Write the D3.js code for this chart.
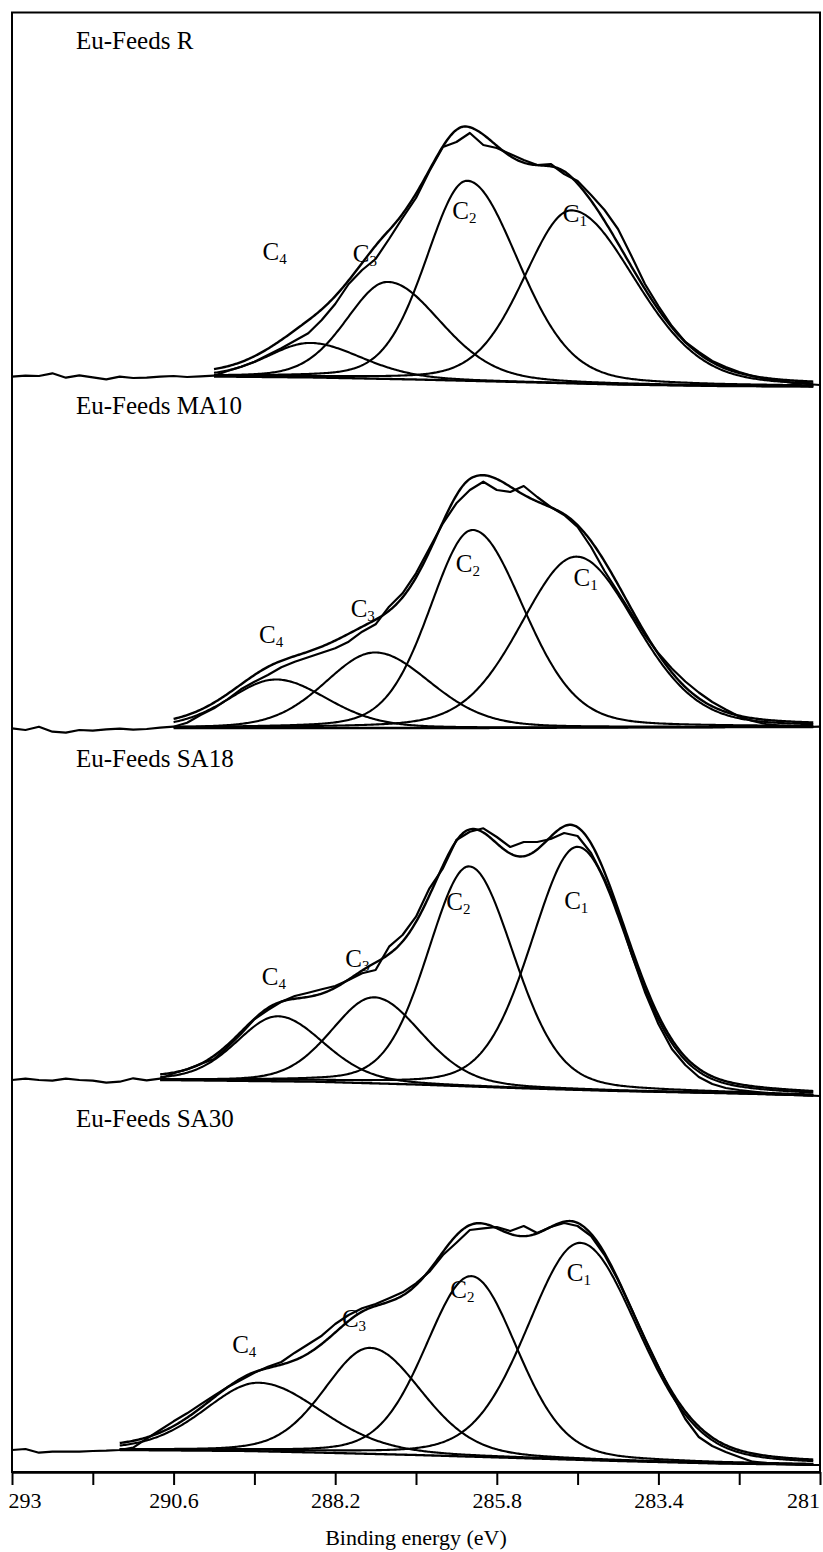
<!DOCTYPE html>
<html lang="en">
  <head>
    <meta charset="UTF-8" />
    <title>C1s XPS spectra</title>
    <style>
      body { margin: 0; background: #fff; }
      text { font-family: "Liberation Serif", "Times New Roman", serif; fill: #000; }
    </style>
  </head>
  <body>
    <svg id="svg" width="823" height="1552"></svg>
    <script src="https://d3js.org/d3.v7.min.js"></script>
    <script>
      // sample names, one panel each (top to bottom)
      const panelNames = ["Eu-Feeds R", "Eu-Feeds MA10", "Eu-Feeds SA18", "Eu-Feeds SA30"];
      const compNames = ["1", "2", "3", "4"];

      // binding energy grid of the measured spectra (eV)
      const energies = [
        293.0, 292.8, 292.6, 292.4, 292.2, 292.0, 291.8, 291.6, 291.4, 291.2,
        291.0, 290.8, 290.6, 290.4, 290.2, 290.0, 289.8, 289.6, 289.4, 289.2,
        289.0, 288.8, 288.6, 288.4, 288.2, 288.0, 287.8, 287.6, 287.4, 287.2,
        287.0, 286.8, 286.6, 286.4, 286.2, 286.0, 285.8, 285.6, 285.4, 285.2,
        285.0, 284.8, 284.6, 284.4, 284.2, 284.0, 283.8, 283.6, 283.4, 283.2,
        283.0, 282.8, 282.6, 282.4, 282.2, 282.0, 281.8, 281.6, 281.4, 281.2, 281.0
      ];

      // measured intensity (a.u.)
      const rawR = [
        15.3, 16.3, 16, 18.7, 14.3, 16.7, 14.7, 12.7, 15.3, 14,
        14.3, 15.3, 16, 15, 15.7, 16.3, 21, 25.3, 30.3, 37,
        43.7, 51.3, 58.7, 72, 88, 108, 122, 133, 153, 174,
        194, 221, 245, 250, 259, 247, 244, 238, 232, 227,
        228, 218, 211, 197, 182, 163, 136, 108, 86, 66,
        50, 40, 31, 25, 20, 16, 13, 11, 9, 8, 7
      ];
      const rawMA10 = [
        13.7, 12, 15.3, 10.3, 9.3, 12, 11.3, 12.7, 13.3, 12.3,
        13, 14.3, 15.3, 19.3, 27, 33.7, 42.7, 52.7, 60.3, 67,
        74.7, 80.3, 84.7, 89.3, 93.7, 100.3, 110.3, 117.7, 135.3, 148.7,
        168.7, 193.7, 218.7, 238.7, 252, 260.3, 252, 250, 256, 245,
        235, 227, 215, 195, 171, 150, 128.5, 107, 88.7, 73.5,
        60.5, 49.5, 40, 32.5, 25.5, 21, 18, 16.5, 15.5, 15, 15.3
      ];
      const rawSA18 = [
        20, 21.3, 20, 19.3, 21.3, 20, 19.3, 17.3, 18.3, 21.7,
        19.7, 21.3, 26.7, 30.7, 36, 41, 52.7, 66, 80.7, 90,
        98.3, 104, 107.3, 110.7, 114, 120, 126.7, 130, 153.3, 165,
        183.3, 211.7, 231.7, 260, 268.3, 271.7, 263, 253, 258, 258,
        261, 267, 264, 247, 221, 189, 146, 108, 76, 51,
        35, 23, 16, 12, 10, 8.5, 7, 6, 5, 4.7, 4
      ];
      const rawSA30 = [
        20, 21, 17.3, 18.3, 18.3, 18.3, 19, 19.3, 20, 22.3,
        31.3, 40, 48.7, 56.7, 65.7, 74.3, 82.7, 90, 97.3, 103.3,
        108, 117.3, 125.7, 134.3, 146, 155, 161.7, 166, 171.7, 177.7,
        186.7, 198.3, 215, 227.3, 240, 241.7, 243, 239, 244, 237,
        243, 247, 244, 234, 215, 190, 161, 131.5, 103.5, 76,
        51, 33, 24, 18, 13, 8.3, 7, 6, 5.5, 5, 5
      ];
      const rawCounts = [rawR, rawMA10, rawSA18, rawSA30];

      // fitted components C1..C4 per panel: centre (eV), height, FWHM on high / low BE side
      const peakCentre = [
        [284.69, 286.24, 287.42, 288.57],
        [284.62, 286.16, 287.61, 289.08],
        [284.60, 286.21, 287.62, 289.05],
        [284.56, 286.18, 287.68, 289.33]
      ];
      const peakHeight = [
        [173, 200, 97, 34.5],
        [171, 198, 75.5, 48.5],
        [243, 220, 86, 65],
        [217, 180.5, 106, 68.5]
      ];
      const fwhmHigh = [
        [1.67, 1.44, 1.45, 1.5],
        [1.95, 1.5, 1.75, 1.65],
        [1.62, 1.45, 1.5, 1.45],
        [1.86, 1.6, 1.6, 1.9]
      ];
      const fwhmLow = [
        [2.25, 1.8, 1.85, 1.8],
        [2.1, 1.8, 1.95, 1.8],
        [1.78, 1.57, 1.65, 1.6],
        [2.05, 1.62, 1.8, 2.2]
      ];
      const lorentzShare = 0.2;

      // background under the fit
      const bgEnergy = [
        [290.0, 288.5, 287.0, 285.5, 284.0, 282.5, 281.1],
        [290.6, 288.0, 286.0, 284.0, 281.1],
        [290.8, 288.5, 287.0, 285.4, 284.0, 282.2, 281.1],
        [291.4, 289.5, 288.5, 287.0, 285.5, 284.0, 282.5, 281.1]
      ];
      const bgLevel = [
        [15.5, 14.5, 12.5, 10, 7.5, 6, 5.5],
        [14, 14, 14, 14.5, 15],
        [20, 18.3, 15.5, 11.7, 9, 6.5, 4.5],
        [20, 19, 17.5, 15, 12, 9, 6.5, 5.3]
      ];

      // where the C labels sit (eV, intensity)
      const labelEnergy = [
        [284.82, 286.46, 287.94, 289.28],
        [284.66, 286.41, 287.97, 289.33],
        [284.80, 286.55, 288.05, 289.29],
        [284.76, 286.49, 288.10, 289.73]
      ];
      const labelLevel = [
        [170, 173, 130, 132],
        [156, 170, 125, 99],
        [191, 190, 133, 115],
        [189, 172, 143, 117]
      ];

      const tickValues = [293, 291.8, 290.6, 289.4, 288.2, 287, 285.8, 284.6, 283.4, 282.2, 281];
      const tickLabels = ["293", "", "290.6", "", "288.2", "", "285.8", "", "283.4", "", "281"];

      // layout
      const plotLeft = 12, plotRight = 820, plotTop = 12.5, plotBottom = 1472;
      const panelBase = [392, 742, 1100, 1470];
      const titleY = [49, 414, 767, 1127];

      const svg = d3.select("#svg");

      const x = d3.scaleLinear().domain([293, 281]).range([plotLeft, plotRight]);

      function peak(e, c, h, wHi, wLo) {
        const w = e >= c ? wHi : wLo;
        const t = (e - c) / w;
        return h * ((1 - lorentzShare) * Math.exp(-4 * Math.LN2 * t * t) + lorentzShare / (1 + 4 * t * t));
      }

      panelNames.forEach((name, p) => {
        const y = d3.scaleLinear().domain([0, 300]).range([panelBase[p], panelBase[p] - 300]);
        const g = svg.append("g");

        const bg = d3.scaleLinear().domain(bgEnergy[p]).range(bgLevel[p]);
        const eHi = bgEnergy[p][0];
        const eLo = bgEnergy[p][bgEnergy[p].length - 1];
        const grid = d3.range(eHi, eLo - 0.001, -0.02);

        const line = d3.line().x((d) => x(d[0])).y((d) => y(d[1]));

        // background
        g.append("path")
          .attr("d", line(grid.map((e) => [e, bg(e)])))
          .attr("fill", "none")
          .attr("stroke", "#000")
          .attr("stroke-width", 2.3);

        // components
        compNames.forEach((c, i) => {
          const pts = grid.map((e) => [
            e,
            bg(e) + peak(e, peakCentre[p][i], peakHeight[p][i], fwhmHigh[p][i], fwhmLow[p][i])
          ]);
          g.append("path")
            .attr("d", line(pts))
            .attr("fill", "none")
            .attr("stroke", "#000")
            .attr("stroke-width", 2.1);
        });

        // envelope
        const env = grid.map((e) => [
          e,
          bg(e) + d3.sum(compNames, (c, i) =>
            peak(e, peakCentre[p][i], peakHeight[p][i], fwhmHigh[p][i], fwhmLow[p][i]))
        ]);
        g.append("path")
          .attr("d", line(env))
          .attr("fill", "none")
          .attr("stroke", "#000")
          .attr("stroke-width", 2.4);

        // measured spectrum
        g.append("path")
          .attr("d", line(energies.map((e, k) => [e, rawCounts[p][k]])))
          .attr("fill", "none")
          .attr("stroke", "#000")
          .attr("stroke-width", 2.2)
          .attr("stroke-linejoin", "round");

        // component labels
        compNames.forEach((c, i) => {
          const t = g.append("text")
            .attr("x", x(labelEnergy[p][i]))
            .attr("y", y(labelLevel[p][i]))
            .attr("font-size", 25);
          t.append("tspan").text("C");
          t.append("tspan").attr("font-size", 15).attr("dy", 4).text(c);
        });

        // sample title
        g.append("text")
          .attr("x", 76)
          .attr("y", titleY[p])
          .attr("font-size", 25)
          .text(name);
      });

      // frame
      svg.append("rect")
        .attr("x", plotLeft)
        .attr("y", plotTop)
        .attr("width", plotRight - plotLeft)
        .attr("height", plotBottom - plotTop)
        .attr("fill", "none")
        .attr("stroke", "#000")
        .attr("stroke-width", 2);

      // x axis
      const xAxis = d3.axisBottom(x)
        .tickValues(tickValues)
        .tickFormat((d, i) => tickLabels[i])
        .tickSize(13)
        .tickSizeOuter(0)
        .tickPadding(7);

      const axisG = svg.append("g")
        .attr("transform", `translate(0, ${plotBottom})`)
        .call(xAxis);
      axisG.select(".domain").attr("stroke-width", 2.5);
      axisG.selectAll(".tick line").attr("stroke-width", 2);
      axisG.selectAll(".tick text")
        .attr("font-size", 22)
        .attr("font-family", "Liberation Serif, Times New Roman, serif")
        .attr("dx", (d, i) => (i === 0 ? 12.5 : i === tickValues.length - 1 ? -17 : 0));

      svg.append("text")
        .attr("x", (plotLeft + plotRight) / 2)
        .attr("y", 1545)
        .attr("text-anchor", "middle")
        .attr("font-size", 22)
        .text("Binding energy (eV)");
    </script>
  </body>
</html>
